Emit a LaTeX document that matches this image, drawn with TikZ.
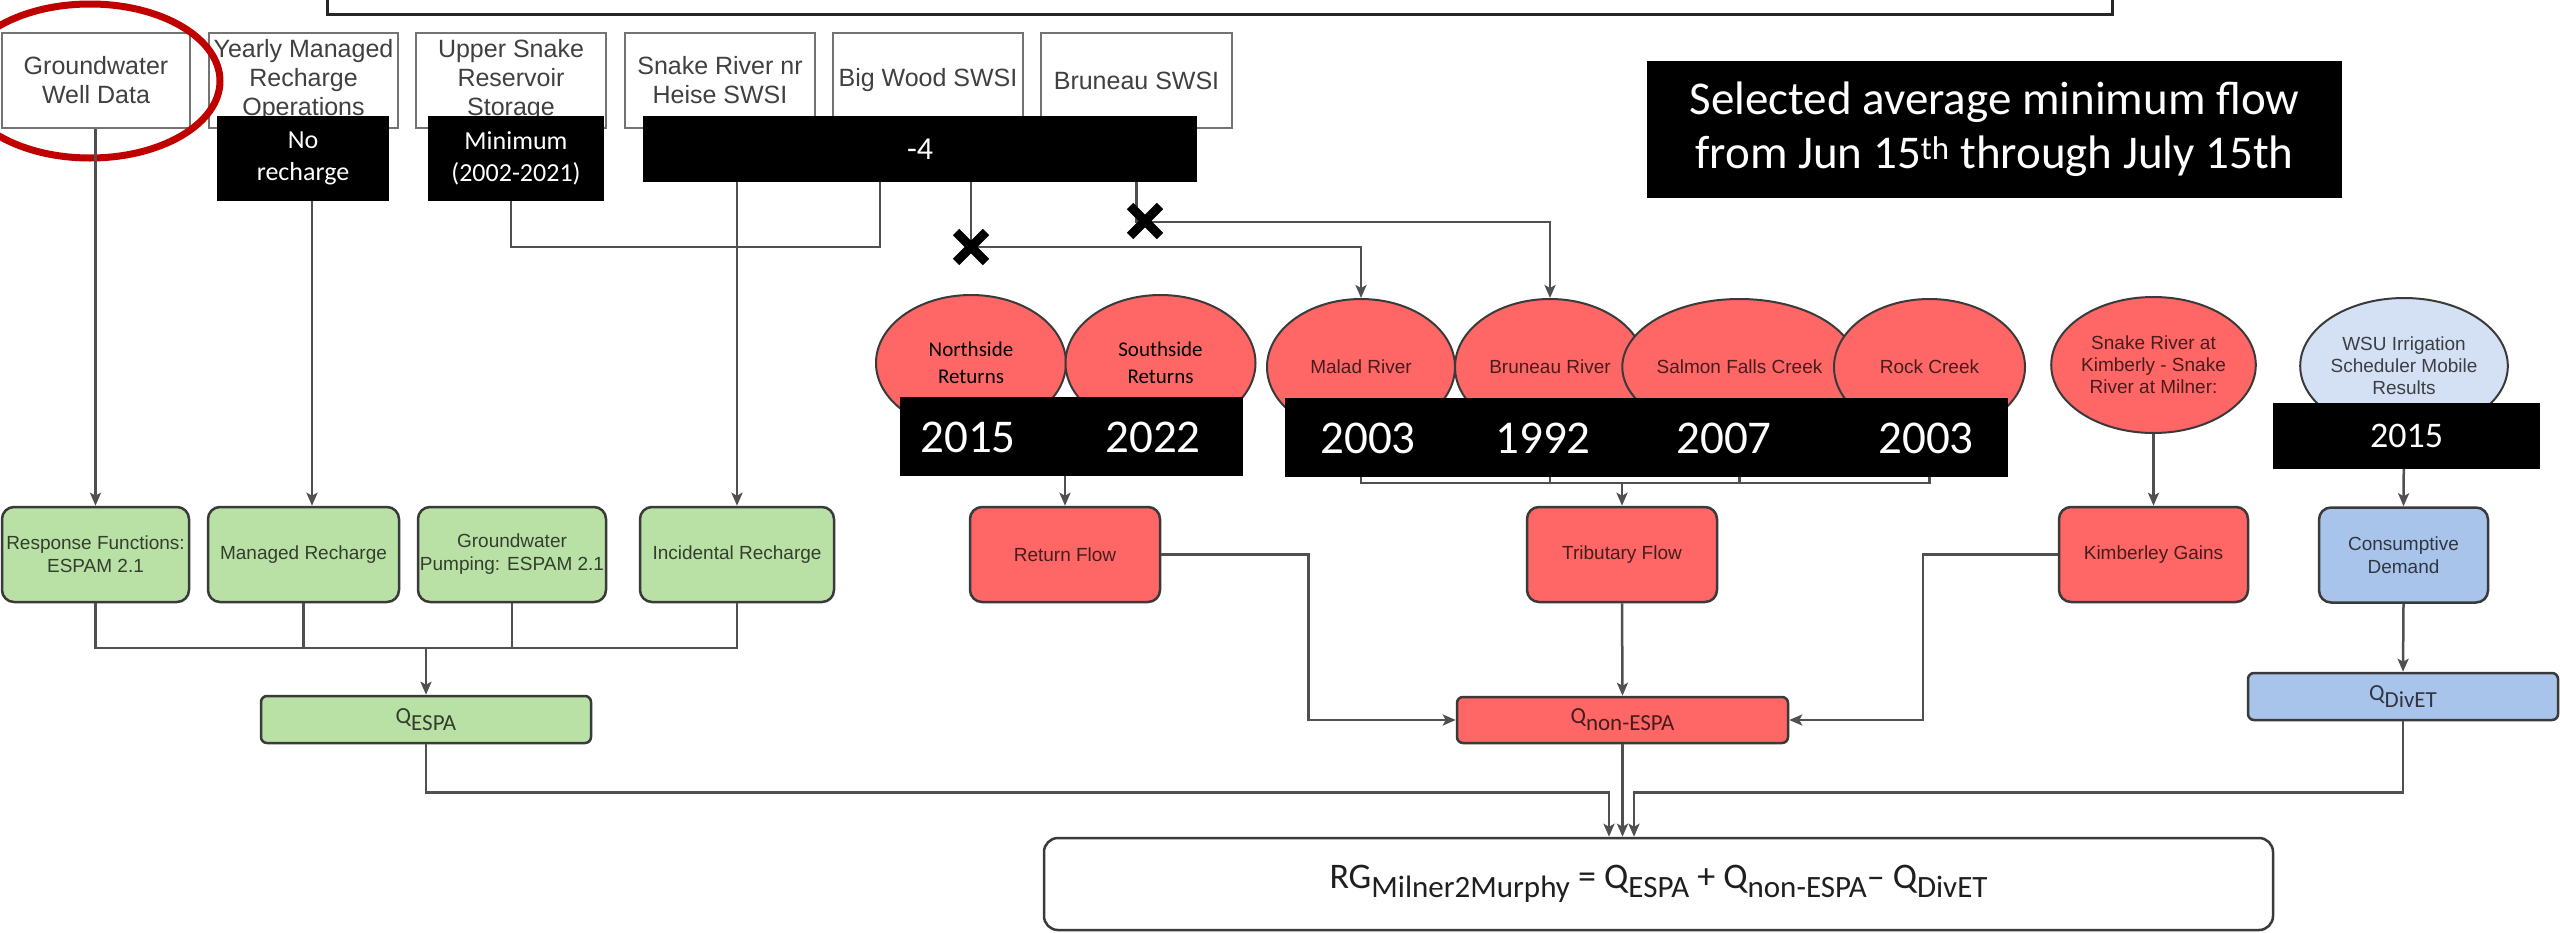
\documentclass[tikz,border=0pt]{standalone}
\usepackage{fontspec}
\setmainfont{Liberation Sans}
\newfontfamily\calib{Carlito}
\usetikzlibrary{arrows.meta,shapes.geometric,shapes.misc}
\definecolor{gfill}{HTML}{B9E0A5}
\definecolor{rfill}{HTML}{FF6666}
\definecolor{bfill}{HTML}{A9C4EB}
\definecolor{lbfill}{HTML}{D4E1F5}
\definecolor{edgec}{HTML}{3A3A3A}
\definecolor{connc}{HTML}{505050}
\definecolor{hl}{HTML}{C00000}
\newcommand{\fsz}[2]{\fontsize{#1}{#2}\selectfont}
\newcommand{\fsub}[1]{\raisebox{-9pt}{\fsz{31}{31}#1}}
\newcommand{\qsub}[1]{\raisebox{-7pt}{#1}}
\begin{document}
\begin{tikzpicture}[x=1pt,y=-1pt,
  topbox/.style={draw=black!55, line width=2.5pt, fill=white, inner sep=0pt, minimum height=95pt, align=center, font=\fsz{25}{29}, text=black, text opacity=0.75},
  gbox/.style={draw=edgec, line width=2.5pt, fill=gfill, rounded corners=12pt, inner sep=0pt, minimum height=95pt, align=center, font=\fsz{19}{23}, text=black, text opacity=0.72},
  rbox/.style={gbox, fill=rfill},
  bbox/.style={gbox, fill=bfill},
  qlab/.style={minimum height=47pt, rounded corners=6pt, font=\calib\fsz{23}{23}},
  ell/.style={ellipse, draw=edgec, line width=2pt, fill=rfill, minimum width=190pt, minimum height=136pt, inner sep=0pt, align=center, font=\fsz{19}{22}, text=black, text opacity=0.72},
  blk/.style={fill=black, inner sep=0pt, text=white, align=center},
  yr/.style={inner sep=0pt, text=white, font=\calib\fsz{47}{47}},
  conn/.style={draw=connc, line width=2.5pt},
  arr/.style={-{Stealth[length=13pt,width=11pt,inset=3pt]}},
  xmark/.style={draw=black, cross out, line width=9pt, minimum size=21pt, inner sep=0pt}
]
\useasboundingbox (0,0) rectangle (2560,932);
\clip (0,0) rectangle (2560,932);
\fill[white] (0,0) rectangle (2560,932);

% top frame (cut off at the page top)
\draw[line width=3pt, black!85] (327,-10) rectangle (2112,14);

% source boxes
\node[topbox, minimum width=188] (gw) at (96,80.5) {Groundwater\\Well Data};
\node[topbox, minimum width=189] (yearly) at (303.5,80.5) {Yearly Managed\\Recharge\\Operations};
\node[topbox, minimum width=190] (upper) at (511,80.5) {Upper Snake\\Reservoir\\Storage};
\node[topbox, minimum width=190] (heise) at (720,80.5) {Snake River nr\\Heise SWSI};
\node[topbox, minimum width=190] (bigwood) at (928,80.5) {Big Wood SWSI};
\node[topbox, minimum width=191] (brunswsi) at (1136.5,80.5) {Bruneau SWSI};

% ellipses
\node[ell, font=\calib\fsz{21}{27}, text opacity=1] (nside) at (971,363) {Northside\\Returns};
\node[ell, font=\calib\fsz{21}{27}, text opacity=1] (sside) at (1160.5,363) {Southside\\Returns};
\node[ell, minimum width=188] (malad) at (1361,367) {Malad River};
\node[ell] (bruriv) at (1550,367) {Bruneau River};
\node[ell, minimum width=189] (salmon) at (1739.5,367) {Salmon Falls Creek};
\node[ell, minimum width=191] (rock) at (1929.5,367) {Rock Creek};
\node[ell, minimum width=189] (kimcirc) at (2153.5,365) {Snake River at\\Kimberly - Snake\\River at Milner:};
\node[ell, fill=lbfill, minimum width=170] (wsu) at (2404,366) {WSU Irrigation\\Scheduler Mobile\\Results};

% process boxes
\node[gbox, minimum width=187] (resp) at (95.5,554.5) {Response Functions:\\ESPAM 2.1};
\node[gbox, minimum width=191] (managed) at (303.5,554.5) {Managed Recharge};
\node[gbox, minimum width=188] (pump) at (512,554.5) {Groundwater\\Pumping: ESPAM 2.1};
\node[gbox, minimum width=194] (incid) at (737,554.5) {Incidental Recharge};
\node[gbox, qlab, minimum width=330] (qespa) at (426,719.5) {Q\qsub{ESPA}};

\node[rbox, minimum width=190] (ret) at (1065,554.5) {Return Flow};
\node[rbox, minimum width=190] (trib) at (1622,554.5) {Tributary Flow};
\node[rbox, minimum width=189] (kimb) at (2153.5,554.5) {Kimberley Gains};
\node[bbox, minimum width=169] (cons) at (2403.5,555) {Consumptive\\Demand};
\node[rbox, qlab, minimum width=331, minimum height=46] (qnon) at (1622.5,720) {Q\qsub{non-ESPA}};
\node[bbox, qlab, minimum width=310] (qdiv) at (2403,696.5) {Q\qsub{DivET}};

\node[draw=edgec, line width=2.5pt, rounded corners=14pt, fill=white, minimum width=1229pt, minimum height=92pt, inner sep=0pt, font=\calib\fsz{36}{36}, text=black!88] (final) at (1658.5,884)
  {\raisebox{-5pt}{RG\fsub{Milner2Murphy} = Q\fsub{ESPA} + Q\fsub{non-ESPA}– Q\fsub{DivET}}};

% highlight
\draw[hl, line width=7pt] (90,81) ellipse [x radius=130, y radius=77];

% connectors
\coordinate (jinc) at (737,247);
\draw[conn] (upper.south) |- (jinc);
\draw[conn] ([xshift=-48pt]bigwood.south) |- (jinc);
\draw[conn,arr] (incid.north |- heise.south) -- (incid.north);
\draw[conn,arr] (resp.north |- gw.south) -- (resp.north);
\draw[conn,arr] ([xshift=8.5pt]yearly.south) -- ([xshift=8.5pt]managed.north);

\coordinate (x1c) at (971,247);
\coordinate (x2c) at (1141,222);
\draw[conn,arr] ([xshift=43pt]bigwood.south) -- (x1c) -| (malad.north);
\draw[conn,arr] (brunswsi.south) |- (x2c) -| (bruriv.north);

\coordinate (jret) at (1065,468);
\draw[conn] (nside.south) |- (jret);
\draw[conn] (sside.south) |- (jret);
\draw[conn,arr] (jret) -- (ret.north);

\coordinate (jtrib) at (1622,483);
\draw[conn] (malad.south) |- (jtrib);
\draw[conn] (bruriv.south) |- (jtrib);
\draw[conn] (salmon.south) |- (jtrib);
\draw[conn] (rock.south) |- (jtrib);
\draw[conn,arr] (jtrib) -- (trib.north);

\draw[conn,arr] (kimcirc.south) -- (kimb.north);
\draw[conn,arr] (wsu.south) -- (cons.north);

\coordinate (jg) at (426,648);
\draw[conn] (resp.south) |- (jg);
\draw[conn] (managed.south) |- (jg);
\draw[conn] (pump.south) |- (jg);
\draw[conn] (incid.south) |- (jg);
\draw[conn,arr] (jg) -- (qespa.north);

\draw[conn,arr] (ret.east) -- ++(147,0) |- (qnon.west);
\draw[conn,arr] (trib.south) -- (qnon.north);
\draw[conn,arr] (kimb.west) -- ++(-135,0) |- (qnon.east);
\draw[conn,arr] (cons.south) -- (qdiv.north);

\draw[conn,arr] (qespa.south) |- ++(0,48) -| ([xshift=-49.5pt]final.north);
\draw[conn,arr] (qnon.south) -- (qnon.south |- final.north);
\draw[conn,arr] (qdiv.south) |- ++(0,71) -| ([xshift=-24.5pt]final.north);

% cut marks
\node[xmark] (x1) at (x1c) {};
\node[xmark] (x2) at (1145,221) {};

% black overlay labels
\node[blk, minimum width=172pt, minimum height=85pt, font=\calib\fsz{26}{32}] (norech) at (303,158.5) {No\\recharge};
\node[blk, minimum width=176pt, minimum height=85pt, font=\calib\fsz{26}{32}] (minim) at (516,158.5) {Minimum\\(2002-2021)};
\node[blk, minimum width=554pt, minimum height=66pt, font=\calib\fsz{32}{32}] (m4) at (920,149) {-4};
\node[blk, minimum width=695pt, minimum height=137pt, font=\calib\fsz{47}{54}] (sel) at (1994.5,129.5) {Selected average minimum flow\\from Jun 15\textsuperscript{th} through July 15th};
\node[blk, minimum width=343pt, minimum height=79pt] (yr1) at (1071.5,436.5) {};
\node[blk, minimum width=723pt, minimum height=79pt] (yr2) at (1646.5,437.5) {};
\node[blk, minimum width=267pt, minimum height=66pt, font=\calib\fsz{36}{36}] (yr3) at (2406.5,436) {2015};
\node[yr] (ya) at (968,437) {2015};
\node[yr] (yb) at (1153,437) {2022};
\node[yr] (yc) at (1368,438) {2003};
\node[yr] (yd) at (1543,438) {1992};
\node[yr] (ye) at (1724,438) {2007};
\node[yr] (yf) at (1926,438) {2003};
\end{tikzpicture}
\end{document}
